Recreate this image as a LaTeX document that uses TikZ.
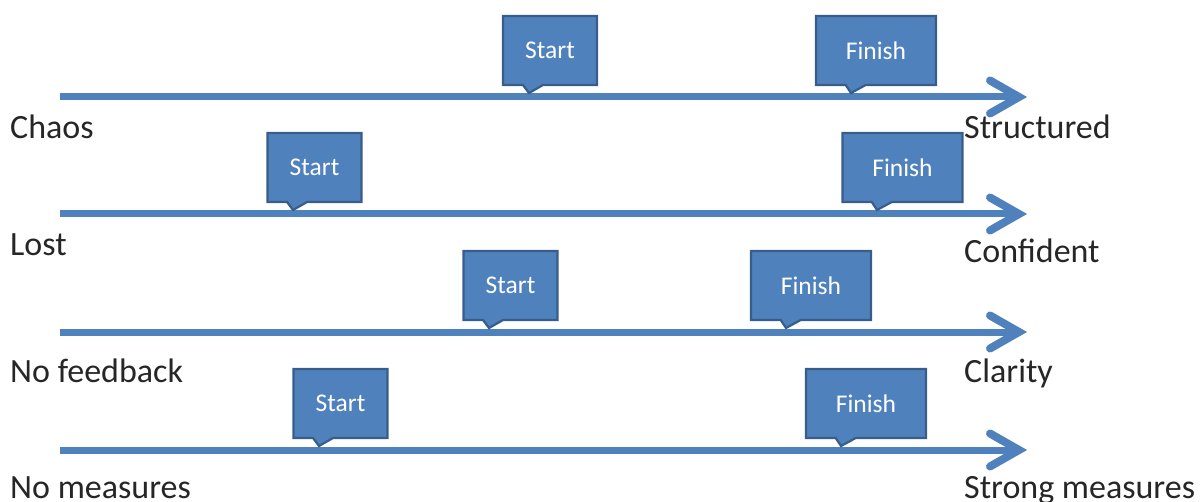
\documentclass[tikz,border=0pt]{standalone}
\usepackage{fontspec}
\setmainfont{Carlito}
\usetikzlibrary{shapes.callouts,calc}
\definecolor{pblue}{HTML}{4F81BD}
\definecolor{pborder}{HTML}{385D8A}
\tikzset{
  axisline/.style={draw=pblue, line width=7pt, line cap=butt},
  chevron/.style={draw=pblue, line width=8pt, line cap=round, line join=miter},
  endlabel/.style={anchor=base west, inner sep=0pt, font=\fontsize{34}{40}\selectfont, text=black!85},
  callbox/.style={rectangle callout, fill=pblue, draw=pborder, line width=2.2pt,
    callout pointer width=20pt, inner sep=0pt, minimum height=69pt,
    text=white, font=\fontsize{25.5}{30}\selectfont},
  startbox/.style={callbox, minimum width=94pt},
  finishbox/.style={callbox, minimum width=120pt},
}
\begin{document}
\begin{tikzpicture}[x=1pt,y=-1pt]
\useasboundingbox (0,0) rectangle (1201,502);
% arrow lines
\foreach \i/\y in {1/97,2/214,3/332,4/450}{
  \coordinate (a\i) at (60,\y);
  \coordinate (b\i) at (1019,\y);
  \draw[axisline] (a\i) -- (b\i);
  \draw[chevron] ($(b\i)+(-29,-16.5)$) -- (b\i) -- ($(b\i)+(-29,16.5)$);
}
% labels
\node[endlabel] (l1) at (10,139) {Chaos};
\node[endlabel] (r1) at (964,139) {Structured};
\node[endlabel] (l2) at (10,256) {Lost};
\node[endlabel] (r2) at (964,263) {Confident};
\node[endlabel] (l3) at (10,382) {No feedback};
\node[endlabel] (r3) at (964,382) {Clarity};
\node[endlabel] (l4) at (10,498) {No measures};
\node[endlabel] (r4) at (964,498) {Strong measures};
% callouts
\node[startbox, callout absolute pointer={(529,93)}] (s1) at (550,50.5) {Start};
\node[finishbox, callout absolute pointer={(851,93)}] (f1) at (876,50.5) {Finish};
\node[startbox, callout absolute pointer={(293,210)}] (s2) at (314.5,167.5) {Start};
\node[finishbox, callout absolute pointer={(877,210)}] (f2) at (902.5,167.5) {Finish};
\node[startbox, callout absolute pointer={(489,328)}] (s3) at (510.5,285.5) {Start};
\node[finishbox, callout absolute pointer={(786,328)}] (f3) at (811,285.5) {Finish};
\node[startbox, callout absolute pointer={(319,446)}] (s4) at (340.5,403.5) {Start};
\node[finishbox, callout absolute pointer={(841,446)}] (f4) at (866,403.5) {Finish};
\end{tikzpicture}
\end{document}
